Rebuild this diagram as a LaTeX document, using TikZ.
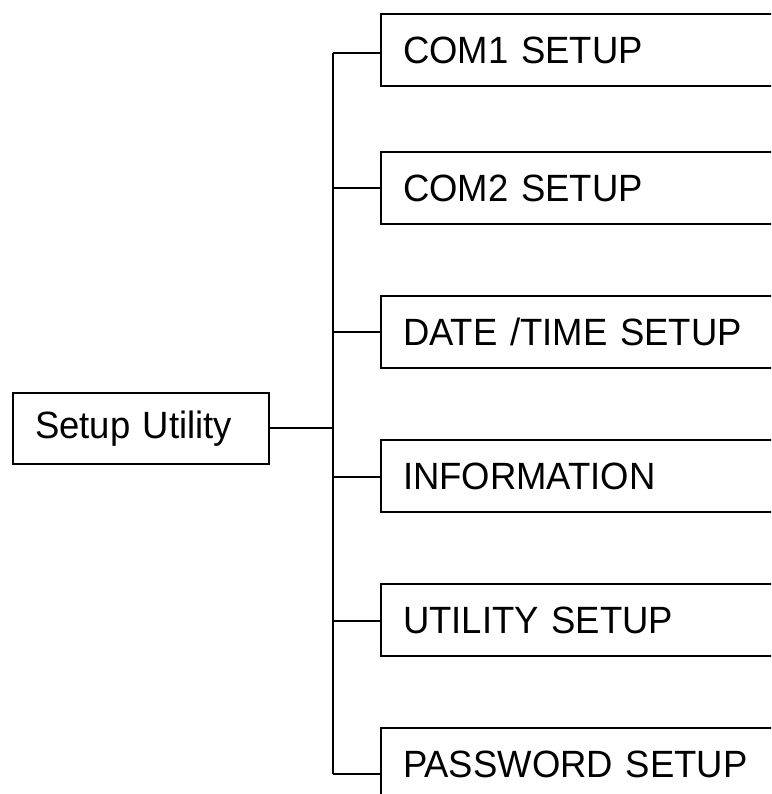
\documentclass[tikz,border=0pt]{standalone}
\usepackage{fontspec}
\setmainfont{Liberation Sans}[FakeStretch=0.96]
\begin{document}
\begin{tikzpicture}[x=1pt,y=-1pt,
  menubox/.style={draw,line width=2pt,anchor=north west,minimum width=440pt,minimum height=72pt,
    text width=396pt,inner xsep=22pt,inner ysep=0pt,align=left,font=\fontsize{38}{44}\selectfont},
  rootbox/.style={draw,line width=2pt,anchor=north west,minimum width=256pt,minimum height=71pt,
    text width=212pt,inner xsep=22pt,inner ysep=0pt,align=left,font=\fontsize{38}{44}\selectfont},
  link/.style={line width=1.6pt}]
\useasboundingbox (0,0) rectangle (771,794);
\clip (0,0) rectangle (771,794);
\node[rootbox] (root) at (12,392) {Setup Utility};
\node[menubox] (b1) at (380,13) {COM1 SETUP};
\node[menubox] (b2) at (380,151) {COM2 SETUP};
\node[menubox] (b3) at (380,295) {DATE /TIME SETUP};
\node[menubox] (b4) at (380,439) {INFORMATION};
\node[menubox] (b5) at (380,583) {UTILITY SETUP};
\node[menubox] (b6) at (380,727) {PASSWORD SETUP};
\coordinate (j) at (333,428);
\coordinate (t1) at (333,53);
\coordinate (t2) at (333,188);
\coordinate (t3) at (333,332);
\coordinate (t4) at (333,477);
\coordinate (t5) at (333,621);
\coordinate (t6) at (333,774);
\draw[link] (root.east |- j) -- (j);
\draw[link] (t1) -- (t6);
\foreach \i in {1,...,6} {\draw[link] (t\i) -- (t\i -| b\i.west);}
\end{tikzpicture}
\end{document}
